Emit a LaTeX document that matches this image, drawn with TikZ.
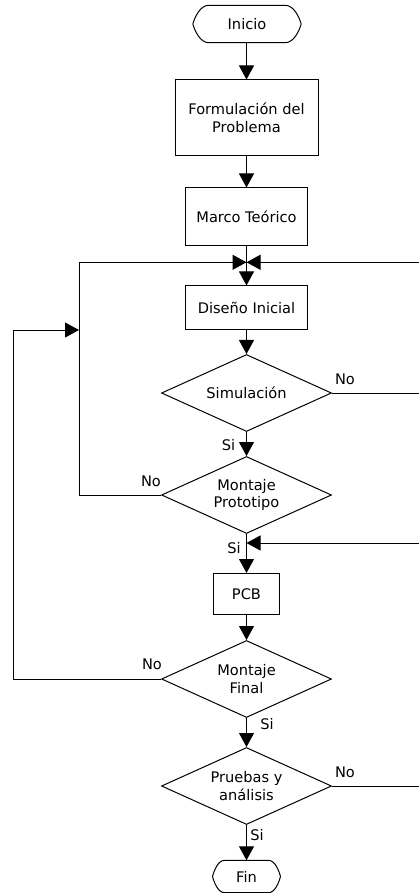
\documentclass[tikz,border=0pt]{standalone}
\usepackage{fontspec}
\setmainfont{DejaVu Sans}
\usetikzlibrary{shapes.geometric,arrows.meta,calc}
\newcommand\termoutline[2]{%
  \draw[line width=1pt] ($(#1.north west)+(#2,0)$) -- ($(#1.north east)+(-#2,0)$)
   .. controls ($(#1.north east)+(-0.45*#2,0)$) and ($(#1.east)!0.35!(#1.north east)+(-0.12*#2,0)$) .. (#1.east)
   .. controls ($(#1.east)!0.35!(#1.south east)+(-0.12*#2,0)$) and ($(#1.south east)+(-0.45*#2,0)$) .. ($(#1.south east)+(-#2,0)$)
   -- ($(#1.south west)+(#2,0)$)
   .. controls ($(#1.south west)+(0.45*#2,0)$) and ($(#1.west)!0.35!(#1.south west)+(0.12*#2,0)$) .. (#1.west)
   .. controls ($(#1.west)!0.35!(#1.north west)+(0.12*#2,0)$) and ($(#1.north west)+(0.45*#2,0)$) .. cycle;
}
\begin{document}
\begin{tikzpicture}[x=1pt,y=-1pt,
  every node/.style={font=\fontsize{14.6}{17.5}\selectfont},
  box/.style={draw, line width=1pt, rectangle, inner sep=0pt, align=center},
  dec/.style={draw, line width=1pt, diamond, aspect=2.2, inner sep=0pt, minimum width=170pt, minimum height=77pt, align=center},
  term/.style={inner sep=0pt, align=center},
  conn/.style={line width=1pt, -{Triangle[length=14pt,width=15pt]}},
  plain/.style={line width=1pt},
  lbl/.style={inner sep=0pt}
]
\useasboundingbox (0,0) rectangle (419,893);
\clip (0,0) rectangle (419,893);

\node[term, minimum width=108pt, minimum height=37pt] (ini) at (247,24) {Inicio};
\node[box, minimum width=143pt, minimum height=76pt] (form) at (246.5,118) {Formulación del\\Problema};
\node[box, minimum width=122pt, minimum height=57pt] (marco) at (246.5,216.5) {Marco Teórico};
\coordinate (junc) at (246.5,262.3);
\node[box, minimum width=122pt, minimum height=43.5pt] (dis) at (246.5,307.7) {Diseño Inicial};
\node[dec] (sim) at (246.5,393) {Simulación};
\node[dec] (proto) at (246.5,495) {Montaje\\Prototipo};
\coordinate (mid) at (246.5,543);
\node[box, minimum width=66pt, minimum height=41pt] (pcb) at (246.5,594) {PCB};
\node[dec] (final) at (246.5,679) {Montaje\\Final};
\node[dec] (prue) at (246.5,786) {Pruebas y\\análisis};
\node[term, minimum width=67.5pt, minimum height=32pt] (fin) at (246.5,876.5) {Fin};

\termoutline{ini}{16}
\termoutline{fin}{12}

\coordinate (lt) at (79,262.3);
\coordinate (lb) at (79,495);
\coordinate (la) at (79,330);
\coordinate (ft) at (13.3,330);
\coordinate (fb) at (13.3,679);
\coordinate (rt) at (422,262.3);
\coordinate (rs) at (422,393);
\coordinate (rm) at (422,543);
\coordinate (rp) at (422,786);

\draw[conn] (ini.south -| form.north) -- (form);
\draw[conn] (form) -- (marco);
\draw[plain] (marco) -- (junc);
\draw[conn] (junc) -- (dis);
\draw[conn] (dis) -- (sim);
\draw[conn] (sim.east) -- (rs) -- (rt) -- (junc);
\draw[conn] (sim) -- (proto);
\draw[conn] (proto.west) -- (lb) -- (lt) -- (junc);
\draw[conn] (proto) -- (pcb);
\draw[conn] (prue.east) -- (rp) -- (rm) -- (mid);
\draw[conn] (pcb) -- (final);
\draw[conn] (final.west) -- (fb) -- (ft) -- (la);
\draw[conn] (final) -- (prue);
\draw[conn] (prue) -- (fin);

\node[lbl] (l1) at (345,379) {No};
\node[lbl] (l2) at (228.5,445) {Si};
\node[lbl] (l3) at (151,481) {No};
\node[lbl] (l4) at (234,548) {Si};
\node[lbl] (l5) at (152,664) {No};
\node[lbl] (l6) at (267,724.5) {Si};
\node[lbl] (l7) at (345,772.5) {No};
\node[lbl] (l8) at (257,835) {Si};
\end{tikzpicture}
\end{document}
